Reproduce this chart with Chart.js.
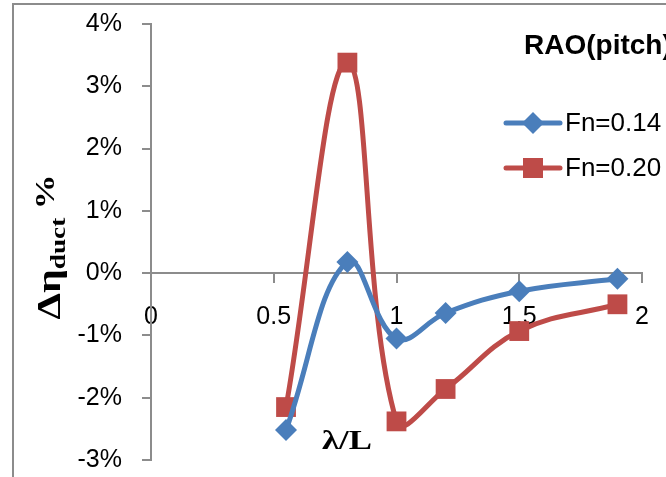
<!DOCTYPE html>
<html><head><meta charset="utf-8">
<style>html,body{margin:0;padding:0;background:#fff;overflow:hidden}#wrap{width:666px;height:477px;position:relative}</style>
<script src="https://cdn.jsdelivr.net/npm/chart.js@4.4.0/dist/chart.umd.min.js"></script>
</head><body><div id="wrap"><canvas id="c" width="666" height="477"></canvas></div>
<script>
const lambdaL = [0.55, 0.8, 1.0, 1.2, 1.5, 1.9];
const fn014 = [-2.52, 0.18, -1.05, -0.64, -0.29, -0.09];
const fn020 = [-2.15, 3.38, -2.38, -1.86, -0.93, -0.50];
const seriesNames = ['Fn=0.14', 'Fn=0.20'];
const seriesColors = ['#4a7ebb', '#be4b48'];
const seriesMarkers = ['rectRot', 'rect'];
const xTicks = [0, 0.5, 1, 1.5, 2];
const yTicks = [-3, -2, -1, 0, 1, 2, 3, 4];
const chartTitle = 'RAO(pitch)';
const xTitle = 'λ/L';
const yTitleMain = 'Δη';
const yTitleSub = 'duct';
const yTitleUnit = '%';

const toPts = ys => lambdaL.map((x, i) => ({x: x, y: ys[i]}));

const deco = {
  id: 'deco',
  afterDraw(chart) {
    const ctx = chart.ctx;
    ctx.save();
    // outer frame
    ctx.strokeStyle = '#8c8c8c'; ctx.lineWidth = 2;
    ctx.beginPath(); ctx.moveTo(13, 490); ctx.lineTo(13, 4); ctx.lineTo(700, 4); ctx.stroke();
    // title
    ctx.fillStyle = '#000'; ctx.textAlign = 'left'; ctx.textBaseline = 'alphabetic';
    ctx.font = 'bold 28px "Liberation Sans"';
    ctx.fillText(chartTitle, 524, 54);
    // legend
    const legY = [123, 168];
    ctx.font = '26px "Liberation Sans"';
    for (let i = 0; i < 2; i++) {
      ctx.strokeStyle = seriesColors[i]; ctx.lineWidth = 5; ctx.lineCap = 'round';
      ctx.beginPath(); ctx.moveTo(506, legY[i]); ctx.lineTo(560, legY[i]); ctx.stroke();
      ctx.fillStyle = seriesColors[i];
      if (i === 0) {
        ctx.beginPath(); ctx.moveTo(533, legY[i] - 11); ctx.lineTo(544, legY[i]); ctx.lineTo(533, legY[i] + 11); ctx.lineTo(522, legY[i]); ctx.closePath(); ctx.fill();
      } else {
        ctx.fillRect(523, legY[i] - 10, 20, 20);
      }
      ctx.fillStyle = '#000'; ctx.textBaseline = 'middle';
      ctx.fillText(seriesNames[i], 565, legY[i] + 1);
    }
    // x title
    ctx.save();
    ctx.font = 'bold 27px "Liberation Serif"'; ctx.textAlign = 'center'; ctx.textBaseline = 'alphabetic';
    const wx = ctx.measureText(xTitle).width;
    ctx.translate(347, 449); ctx.scale(50 / wx, 1);
    ctx.fillText(xTitle, 0, 0);
    ctx.restore();
    // y title
    ctx.translate(51, 247); ctx.rotate(-Math.PI / 2);
    const f1 = 'bold 34px "Liberation Serif"', f2 = 'bold 22px "Liberation Serif"', f3 = 'bold 28px "Liberation Serif"';
    ctx.font = f1; const w1 = ctx.measureText(yTitleMain).width;
    ctx.font = f2; const w2 = ctx.measureText(yTitleSub).width;
    ctx.font = f3; const w3 = ctx.measureText(' ' + yTitleUnit).width;
    const total = w1 + w2 + w3, target = 145, s = target / total;
    ctx.scale(s, 1);
    ctx.textAlign = 'left';
    let x0 = -total / 2;
    ctx.font = f1; ctx.fillText(yTitleMain, x0, 0); x0 += w1;
    ctx.font = f2; ctx.fillText(yTitleSub, x0, 8); x0 += w2;
    ctx.font = f3; ctx.fillText(' ' + yTitleUnit, x0, -4);
    ctx.restore();
  }
};

const ds = [fn014, fn020].map((ys, i) => ({
  label: seriesNames[i],
  data: toPts(ys),
  borderColor: seriesColors[i],
  backgroundColor: seriesColors[i],
  borderWidth: 5,
  pointStyle: seriesMarkers[i],
  pointRadius: i === 0 ? 11 : 14,
  pointBorderWidth: 0,
  pointHoverRadius: i === 0 ? 11 : 14,
  tension: 0.4,
  cubicInterpolationMode: 'default',
  showLine: true,
  fill: false,
  clip: false
}));

new Chart(document.getElementById('c'), {
  type: 'scatter',
  data: { datasets: ds },
  options: {
    responsive: false,
    animation: false,
    devicePixelRatio: 1,
    layout: { padding: { left: 0, top: 24, right: 24, bottom: 17 } },
    plugins: { legend: { display: false }, title: { display: false }, tooltip: { enabled: false } },
    scales: {
      x: {
        type: 'linear', min: 0, max: 2,
        position: { y: 0 },
        afterBuildTicks: sc => { sc.ticks = xTicks.map(v => ({ value: v })); },
        afterFit: sc => { sc.height = 0; sc.paddingLeft = 0; sc.paddingRight = 0; sc.paddingTop = 0; sc.paddingBottom = 0; },
        ticks: { color: '#000', font: { family: '"Liberation Sans"', size: 25 }, padding: 20, maxRotation: 0, autoSkip: false,
          callback: v => String(v) },
        grid: { drawOnChartArea: false, drawTicks: true, tickLength: 9, color: '#8c8c8c', lineWidth: 2 },
        border: { display: true, color: '#8c8c8c', width: 2 }
      },
      y: {
        type: 'linear', min: -3, max: 4,
        position: 'left',
        afterBuildTicks: sc => { sc.ticks = yTicks.map(v => ({ value: v })); },
        afterFit: sc => { sc.width = 151; sc.paddingTop = 0; sc.paddingBottom = 0; },
        ticks: { color: '#000', font: { family: '"Liberation Sans"', size: 25 }, padding: 20, autoSkip: false,
          callback: v => v + '%' },
        grid: { drawOnChartArea: false, drawTicks: true, tickLength: 9, color: '#8c8c8c', lineWidth: 2 },
        border: { display: true, color: '#8c8c8c', width: 2 }
      }
    }
  },
  plugins: [deco]
});
</script>
</body></html>
